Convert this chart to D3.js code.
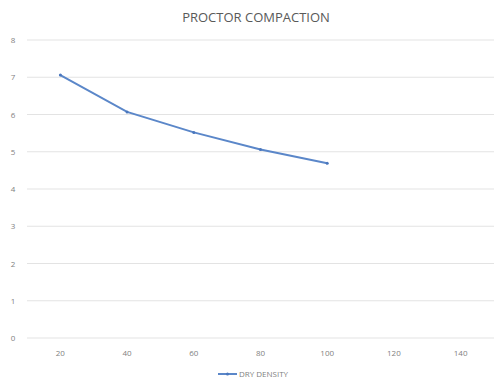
<!DOCTYPE html>
<html>
<head>
<meta charset="utf-8">
<script src="https://cdn.jsdelivr.net/npm/d3@7"></script>
<style>
body { margin: 0; background: #fff; }
text { font-family: "Open Sans", "Liberation Sans", sans-serif; }
</style>
</head>
<body>
<script>
var categories = ["20", "40", "60", "80", "100", "120", "140"];
var dryDensity = [7.06, 6.07, 5.52, 5.06, 4.69];
var yTicks = [0, 1, 2, 3, 4, 5, 6, 7, 8];

var width = 494, height = 381;
var plotLeft = 27, plotRight = 494, plotTop = 40, plotBottom = 338;

var svg = d3.select("body").append("svg")
    .attr("width", width).attr("height", height);

var x = d3.scaleBand().domain(categories).range([plotLeft, plotRight]);
var y = d3.scaleLinear().domain([0, 8]).range([plotBottom, plotTop]);

// gridlines
svg.append("g").selectAll("line").data(yTicks).enter()
    .append("line")
    .attr("x1", plotLeft).attr("x2", plotRight)
    .attr("y1", function(d) { return y(d); })
    .attr("y2", function(d) { return y(d); })
    .attr("stroke", "#e3e3e3")
    .attr("stroke-width", 1);

// y labels
svg.append("g").selectAll("text").data(yTicks).enter()
    .append("text")
    .attr("x", 13)
    .attr("y", function(d) { return y(d) + 3; })
    .attr("text-anchor", "middle")
    .attr("font-size", 8)
    .attr("fill", "#7f7f7f")
    .text(function(d) { return d; });

// x labels
svg.append("g").selectAll("text").data(categories).enter()
    .append("text")
    .attr("x", function(d) { return x(d) + x.bandwidth() / 2; })
    .attr("y", 356)
    .attr("text-anchor", "middle")
    .attr("font-size", 8)
    .attr("fill", "#7f7f7f")
    .text(function(d) { return d; });

// line
var line = d3.line()
    .x(function(d, i) { return x(categories[i]) + x.bandwidth() / 2; })
    .y(function(d) { return y(d); });

svg.append("path")
    .datum(dryDensity)
    .attr("d", line)
    .attr("fill", "none")
    .attr("stroke", "#5b87c9")
    .attr("stroke-width", 2);

svg.append("g").selectAll("circle").data(dryDensity).enter()
    .append("circle")
    .attr("cx", function(d, i) { return x(categories[i]) + x.bandwidth() / 2; })
    .attr("cy", function(d) { return y(d); })
    .attr("r", 1.5)
    .attr("fill", "#4a77bd");

// title
svg.append("text")
    .attr("x", 256).attr("y", 22)
    .attr("text-anchor", "middle")
    .attr("font-size", 13)
    .attr("fill", "#595959")
    .text("PROCTOR COMPACTION");

// legend
svg.append("line")
    .attr("x1", 218).attr("x2", 237)
    .attr("y1", 374).attr("y2", 374)
    .attr("stroke", "#5b87c9").attr("stroke-width", 2);
svg.append("circle")
    .attr("cx", 227.5).attr("cy", 374).attr("r", 1.5)
    .attr("fill", "#4a77bd");
svg.append("text")
    .attr("x", 239).attr("y", 377)
    .attr("font-size", 8)
    .attr("fill", "#7f7f7f")
    .text("DRY DENSITY");
</script>
</body>
</html>
